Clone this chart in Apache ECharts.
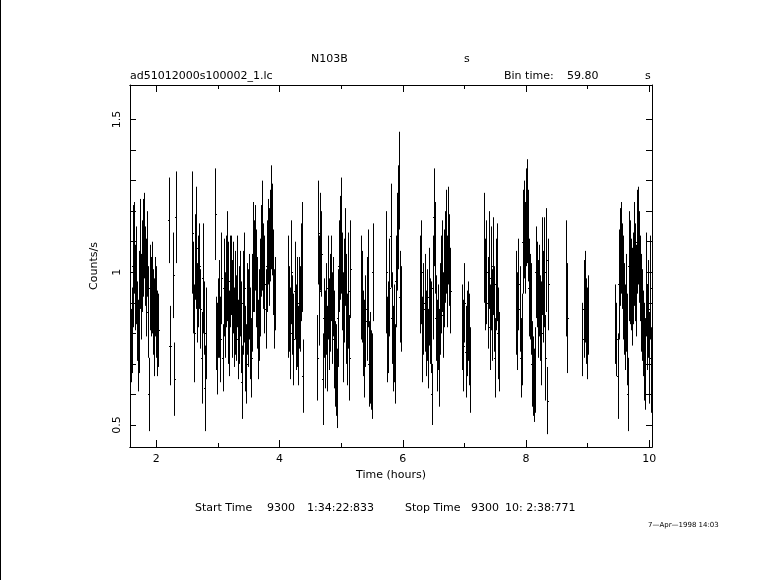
<!DOCTYPE html>
<html><head><meta charset="utf-8">
<script src="https://cdn.jsdelivr.net/npm/echarts@6/dist/echarts.min.js"></script>
<style>html,body{margin:0;padding:0;background:#fff}#c{width:781px;height:580px}</style>
</head><body><div id="c"></div>
<script>
// ---- data (light curve, 59.80 s bins, hours) ----
const binHours = 59.80 / 3600;
const xTickMajor = [2, 4, 6, 8, 10];
const xTickMinor = [2, 3, 4, 5, 6, 7, 8, 9, 10];
const yTickLabels = [0.5, 1, 1.5];
const yTicks = [0.5, 0.6, 0.7, 0.8, 0.9, 1.0, 1.1, 1.2, 1.3, 1.4, 1.5];

const segStarts = [1.581, 2.584, 2.958, 4.143, 4.614, 5.328, 5.734, 6.286, 6.968, 7.325, 7.844, 8.651, 8.916, 9.451];

const rateA = [0.76,0.81,1.02,1.08,0.95,0.99,0.84,0.76,0.87,1.06,0.92,1.02,1.08,1.12,1.02,0.95,1.06,0.87,0.60,0.95,0.92,0.95,0.87,0.82,0.92,0.87,0.80,0.81];
const errA  = [0.12,0.14,0.20,0.15,0.14,0.16,0.13,0.15,0.20,0.18,0.14,0.15,0.16,0.14,0.13,0.16,0.14,0.15,0.12,0.14,0.13,0.15,0.14,0.16,0.13,0.15,0.14,0.12];
const rateB = [1.13,0.95,0.80,1.05,1.08,0.90,0.97,1.02,0.88,0.72,0.98,0.85,0.62,0.80];
const errB  = [0.20,0.15,0.16,0.14,0.20,0.13,0.15,0.14,0.13,0.15,0.18,0.12,0.14,0.15];
const rateC = [1.19,0.80,0.75,0.85,0.88,0.78,0.98,0.72,0.95,0.86,0.97,1.02,0.90,0.80,0.97,0.99,0.88,0.95,0.82,0.90,0.85,0.97,0.78,0.86,0.93,0.82,0.64,0.90,0.95,0.75,0.70,0.88,0.85,0.92,0.80,0.72,0.90,1.05,1.02,1.08,0.98,0.90,0.78,0.86,0.95,1.07,1.12,1.02,0.96,0.88,1.02,1.10,1.05,1.12,1.18,1.14,1.00,0.88,0.93];
const errC  = [0.15,0.12,0.15,0.13,0.16,0.14,0.15,0.11,0.16,0.14,0.15,0.18,0.20,0.14,0.15,0.13,0.16,0.15,0.13,0.17,0.14,0.15,0.13,0.16,0.14,0.15,0.12,0.17,0.18,0.14,0.13,0.15,0.16,0.14,0.15,0.13,0.16,0.18,0.15,0.14,0.16,0.15,0.13,0.15,0.16,0.15,0.18,0.14,0.16,0.13,0.15,0.14,0.16,0.15,0.17,0.15,0.14,0.13,0.12];
const rateD = [0.92,0.88,0.80,1.00,0.86,0.78,0.94,0.82,0.87,0.76,0.90,0.88,1.00,1.05,0.66];
const errD  = [0.20,0.14,0.15,0.17,0.13,0.15,0.16,0.14,0.18,0.13,0.15,0.14,0.16,0.18,0.12];
const rateE = [0.72,1.13,0.94,1.10,1.06,0.65,0.85,0.78,0.88,0.75,0.95,0.83,0.90,0.98,0.85,0.92,0.78,0.70,0.68,0.62,0.85,1.02,1.08,1.12,0.97,0.82,0.94,1.05,0.88,0.78,0.94,0.72,1.01];
const errE  = [0.14,0.17,0.18,0.16,0.14,0.15,0.13,0.16,0.15,0.14,0.17,0.15,0.16,0.14,0.15,0.13,0.16,0.14,0.15,0.13,0.16,0.15,0.17,0.19,0.16,0.18,0.17,0.16,0.18,0.15,0.19,0.14,0.16];
const rateF = [0.95,0.92,0.80,0.75,0.84,0.88,0.98,0.70,0.72,0.68,0.66,1.00];
const errF  = [0.17,0.15,0.14,0.16,0.15,0.17,0.16,0.14,0.15,0.13,0.14,0.16];
const rateG = [1.00,0.78,0.82,0.95,1.12,0.85,0.75,0.80,0.70,0.97,1.10,1.18,1.30,0.92,0.88];
const errG  = [0.20,0.14,0.15,0.16,0.17,0.15,0.14,0.16,0.13,0.15,0.16,0.17,0.16,0.15,0.14];
const rateH = [0.96,1.00,0.78,0.88,0.90,0.80,0.86,0.75,0.92,0.84,0.82,0.60,0.95,1.18,1.08,0.85,0.76,0.82,0.72,0.88,0.96,1.02,0.86,0.98,1.05,1.10,0.97,1.12,1.04,0.94];
const errH  = [0.16,0.17,0.14,0.15,0.16,0.14,0.15,0.13,0.16,0.14,0.15,0.10,0.17,0.16,0.15,0.14,0.15,0.14,0.16,0.15,0.16,0.15,0.14,0.16,0.15,0.17,0.15,0.16,0.15,0.14];
const rateI = [0.82,0.76,0.90,0.74,0.80,0.84,0.78,0.68];
const errI  = [0.14,0.15,0.13,0.15,0.14,0.13,0.15,0.14];
const rateJ = [1.08,0.96,1.00,0.90,1.04,0.82,0.98,0.86,1.02,0.88,0.72,0.96,1.00,0.80,0.74];
const errJ  = [0.18,0.15,0.17,0.15,0.16,0.14,0.17,0.15,0.16,0.14,0.13,0.15,0.16,0.15,0.13];
const rateK = [0.90,0.84,0.96,0.88,0.72,0.78,1.10,1.14,1.08,1.18,1.20,1.12,0.95,0.92,0.88,0.70,0.66,0.63,0.68,1.00,0.96,0.88,0.94,0.85,0.80,1.02,0.92,1.00,0.72,1.04,0.58,0.96];
const errK  = [0.17,0.16,0.15,0.14,0.13,0.15,0.17,0.16,0.15,0.16,0.17,0.15,0.16,0.14,0.15,0.14,0.13,0.12,0.14,0.15,0.14,0.16,0.15,0.14,0.17,0.16,0.15,0.18,0.14,0.17,0.11,0.15];
const ratePair = [0.98,0.85];
const errPair  = [0.19,0.18];
const rateL = [0.78,0.88,0.92,0.84,0.80,0.86];
const errL  = [0.12,0.16,0.15,0.14,0.15,0.13];
const rateM = [0.83,0.78,0.66,0.96,1.05,1.08,1.02,0.95,0.88,0.82,0.90,0.78,0.60,1.02,1.00,0.96,0.92,0.98,1.06,1.00,0.94,1.10,1.12,1.05,0.98,0.90,0.86,0.80,0.74,0.70,0.96,0.82,0.88,0.72,0.95,0.68];
const errM  = [0.13,0.12,0.14,0.18,0.16,0.15,0.14,0.17,0.15,0.14,0.16,0.15,0.12,0.18,0.17,0.15,0.16,0.15,0.17,0.16,0.15,0.17,0.16,0.15,0.14,0.16,0.15,0.14,0.16,0.15,0.17,0.14,0.16,0.15,0.17,0.14];

const sparseTime = [2.200, 2.222, 2.276, 2.292, 2.313];
const sparseRate = [1.17, 0.76, 0.99, 0.65, 1.18];
const sparseErr  = [0.14, 0.13, 0.14, 0.12, 0.15];

const segRates = [rateA, rateB, rateC, rateD, rateE, rateF, rateG, rateH, rateI, rateJ, rateK, ratePair, rateL, rateM];
const segErrs  = [errA, errB, errC, errD, errE, errF, errG, errH, errI, errJ, errK, errPair, errL, errM];

const points = [];
segRates.forEach((rates, s) => {
  rates.forEach((v, i) => points.push([segStarts[s] + i * binHours, v, segErrs[s][i]]));
});
sparseTime.forEach((t, i) => points.push([t, sparseRate[i], sparseErr[i]]));

const FONT = 'DejaVu Sans';
const xMin = 1.5728, xMax = 10.0441, yMin = 0.428, yMax = 1.613;

function renderItem(params, api) {
  const t = api.value(0), v = api.value(1), e = api.value(2);
  const top = api.coord([t, v + e]);
  const bot = api.coord([t, v - e]);
  const l = api.coord([t - binHours / 2, v]);
  const r = api.coord([t + binHours / 2, v]);
  const x = Math.round(top[0]) + 0.5;
  const yc = Math.round(l[1]) + 0.5;
  return {
    type: 'group',
    children: [
      { type: 'line', shape: { x1: x, y1: top[1], x2: x, y2: bot[1] }, style: { stroke: '#000', lineWidth: 1 } },
      { type: 'line', shape: { x1: Math.round(l[0]), y1: yc, x2: Math.round(r[0]) + 1, y2: yc }, style: { stroke: '#000', lineWidth: 1 } }
    ]
  };
}

function xAx(pos, vals, len, labels) {
  return {
    type: 'value', position: pos, min: xMin, max: xMax,
    axisLine: { show: true, onZero: false, lineStyle: { color: '#000', width: 1 } },
    axisTick: { show: true, inside: true, length: len, customValues: vals, lineStyle: { color: '#000' } },
    axisLabel: labels ? { show: true, customValues: xTickMajor, color: '#000', fontFamily: FONT, fontSize: 11, margin: 7 } : { show: false },
    splitLine: { show: false },
    name: labels ? 'Time (hours)' : '', nameLocation: 'middle', nameGap: 23,
    nameTextStyle: { color: '#000', fontFamily: FONT, fontSize: 11 }
  };
}
function yAx(pos, labels) {
  return {
    type: 'value', position: pos, min: yMin, max: yMax,
    axisLine: { show: true, onZero: false, lineStyle: { color: '#000', width: 1 } },
    axisTick: { show: true, inside: true, length: 6, customValues: yTicks, lineStyle: { color: '#000' } },
    axisLabel: labels ? { show: true, customValues: yTickLabels, rotate: 90, color: '#000', fontFamily: FONT, fontSize: 11, margin: 7,
      formatter: v => String(Math.round(v * 10) / 10) } : { show: false },
    splitLine: { show: false },
    name: labels ? 'Counts/s' : '', nameLocation: 'middle', nameGap: 30, nameRotate: 90,
    nameTextStyle: { color: '#000', fontFamily: FONT, fontSize: 11 }
  };
}

const txt = (x, y, s, size, align) => ({
  type: 'text', x: x, y: y,
  style: { text: s, fill: '#000', font: (size || 11) + 'px "' + FONT + '"', textAlign: align || 'left', textVerticalAlign: 'middle' }
});

const chart = echarts.init(document.getElementById('c'), null, { renderer: 'canvas' });
chart.setOption({
  animation: false,
  backgroundColor: '#fff',
  grid: { left: 130, right: 129, top: 85, bottom: 133, containLabel: false },
  xAxis: [xAx('bottom', xTickMajor, 7, true), xAx('bottom', xTickMinor, 4, false), xAx('top', xTickMajor, 7, false), xAx('top', xTickMinor, 4, false)],
  yAxis: [yAx('left', true), yAx('right', false)],
  series: [{
    type: 'custom', xAxisIndex: 0, yAxisIndex: 0, clip: true,
    renderItem: renderItem, data: points
  }],
  graphic: [
    { type: 'line', shape: { x1: 0.5, y1: 0, x2: 0.5, y2: 580 }, style: { stroke: '#000', lineWidth: 1 } },
    txt(311, 59, 'N103B'),
    txt(464, 59, 's'),
    txt(130, 76, 'ad51012000s100002_1.lc'),
    txt(504, 76, 'Bin time:'),
    txt(567, 76, '59.80'),
    txt(645, 76, 's'),
    txt(195, 508, 'Start Time'),
    txt(267, 508, '9300'),
    txt(307, 508, '1:34:22:833'),
    txt(405, 508, 'Stop Time'),
    txt(471, 508, '9300'),
    txt(505, 508, '10: 2:38:771'),
    txt(648, 525, '7\u2014Apr\u20141998 14:03', 7)
  ]
});
</script></body></html>
